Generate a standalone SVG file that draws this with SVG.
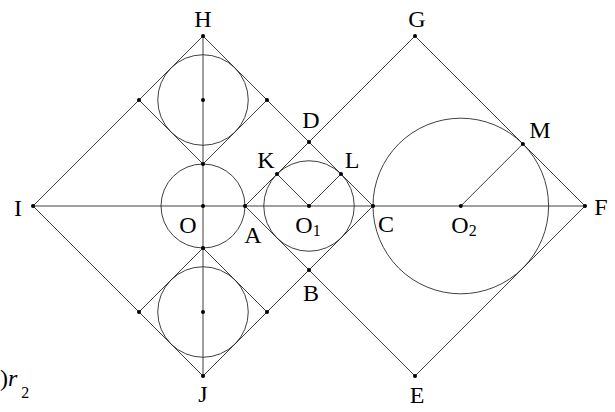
<svg xmlns="http://www.w3.org/2000/svg" width="615" height="412" viewBox="0 0 615 412">
<style>
.ln{stroke:#2a2a2a;stroke-width:0.9;fill:none}
.cc{stroke:#2a2a2a;stroke-width:0.9;fill:none}
.pt{fill:#000}
.lb{font-family:"Liberation Serif","Times New Roman",serif;font-size:24px;fill:#000;text-anchor:middle}
.sb{font-size:16px}
</style>
<rect width="615" height="412" fill="#fff"/>
<g id="lines" class="ln">
<polygon points="33,206 203,36 373,206 203,376"/>
<polygon points="245,206 415,36 585,206 415,376"/>
<line x1="203" y1="36" x2="203" y2="376"/>
<line x1="33" y1="206" x2="585" y2="206"/>
<polyline points="139,100 203,164 267,100"/>
<polyline points="139,312 203,248 267,312"/>
<polyline points="277,174 309,206 341,174"/>
<line x1="460.8" y1="206" x2="522.9" y2="143.9"/>
</g>
<g id="circles" class="cc">
<circle cx="203" cy="100" r="45.25"/>
<circle cx="203" cy="206" r="42"/>
<circle cx="203" cy="312" r="45.25"/>
<circle cx="309" cy="206" r="45.25"/>
<circle cx="460.8" cy="206" r="87.8"/>
</g>
<g id="points" class="pt">
<circle cx="203" cy="36" r="2"/>
<circle cx="415" cy="36" r="2"/>
<circle cx="33" cy="206" r="2"/>
<circle cx="585" cy="206" r="2"/>
<circle cx="203" cy="376" r="2"/>
<circle cx="415" cy="376" r="2"/>
<circle cx="203" cy="206" r="2"/>
<circle cx="245" cy="206" r="2"/>
<circle cx="309" cy="206" r="2"/>
<circle cx="373" cy="206" r="2"/>
<circle cx="460.8" cy="206" r="2"/>
<circle cx="309" cy="142" r="2"/>
<circle cx="309" cy="270" r="2"/>
<circle cx="277" cy="174" r="2"/>
<circle cx="341" cy="174" r="2"/>
<circle cx="522.9" cy="143.9" r="2"/>
<circle cx="139" cy="100" r="2"/>
<circle cx="267" cy="100" r="2"/>
<circle cx="203" cy="100" r="2"/>
<circle cx="203" cy="164" r="2"/>
<circle cx="139" cy="312" r="2"/>
<circle cx="267" cy="312" r="2"/>
<circle cx="203" cy="312" r="2"/>
<circle cx="203" cy="248" r="2"/>
</g>
<g id="labels" class="lb">
<text x="203" y="27">H</text>
<text x="417" y="27">G</text>
<text x="18" y="216">I</text>
<text x="601" y="215">F</text>
<text x="203" y="402">J</text>
<text x="417" y="403">E</text>
<text x="311" y="128">D</text>
<text x="311" y="301">B</text>
<text x="266" y="168">K</text>
<text x="352" y="168">L</text>
<text x="540" y="138">M</text>
<text x="188" y="233">O</text>
<text x="253" y="243">A</text>
<text x="386" y="232">C</text>
<text x="308" y="233">O<tspan class="sb" dy="3">1</tspan></text>
<text x="464" y="233">O<tspan class="sb" dy="3">2</tspan></text>
<text x="0" y="386" style="text-anchor:start">)<tspan font-style="italic">r</tspan><tspan class="sb" dx="4" dy="12">2</tspan></text>
</g>
</svg>
